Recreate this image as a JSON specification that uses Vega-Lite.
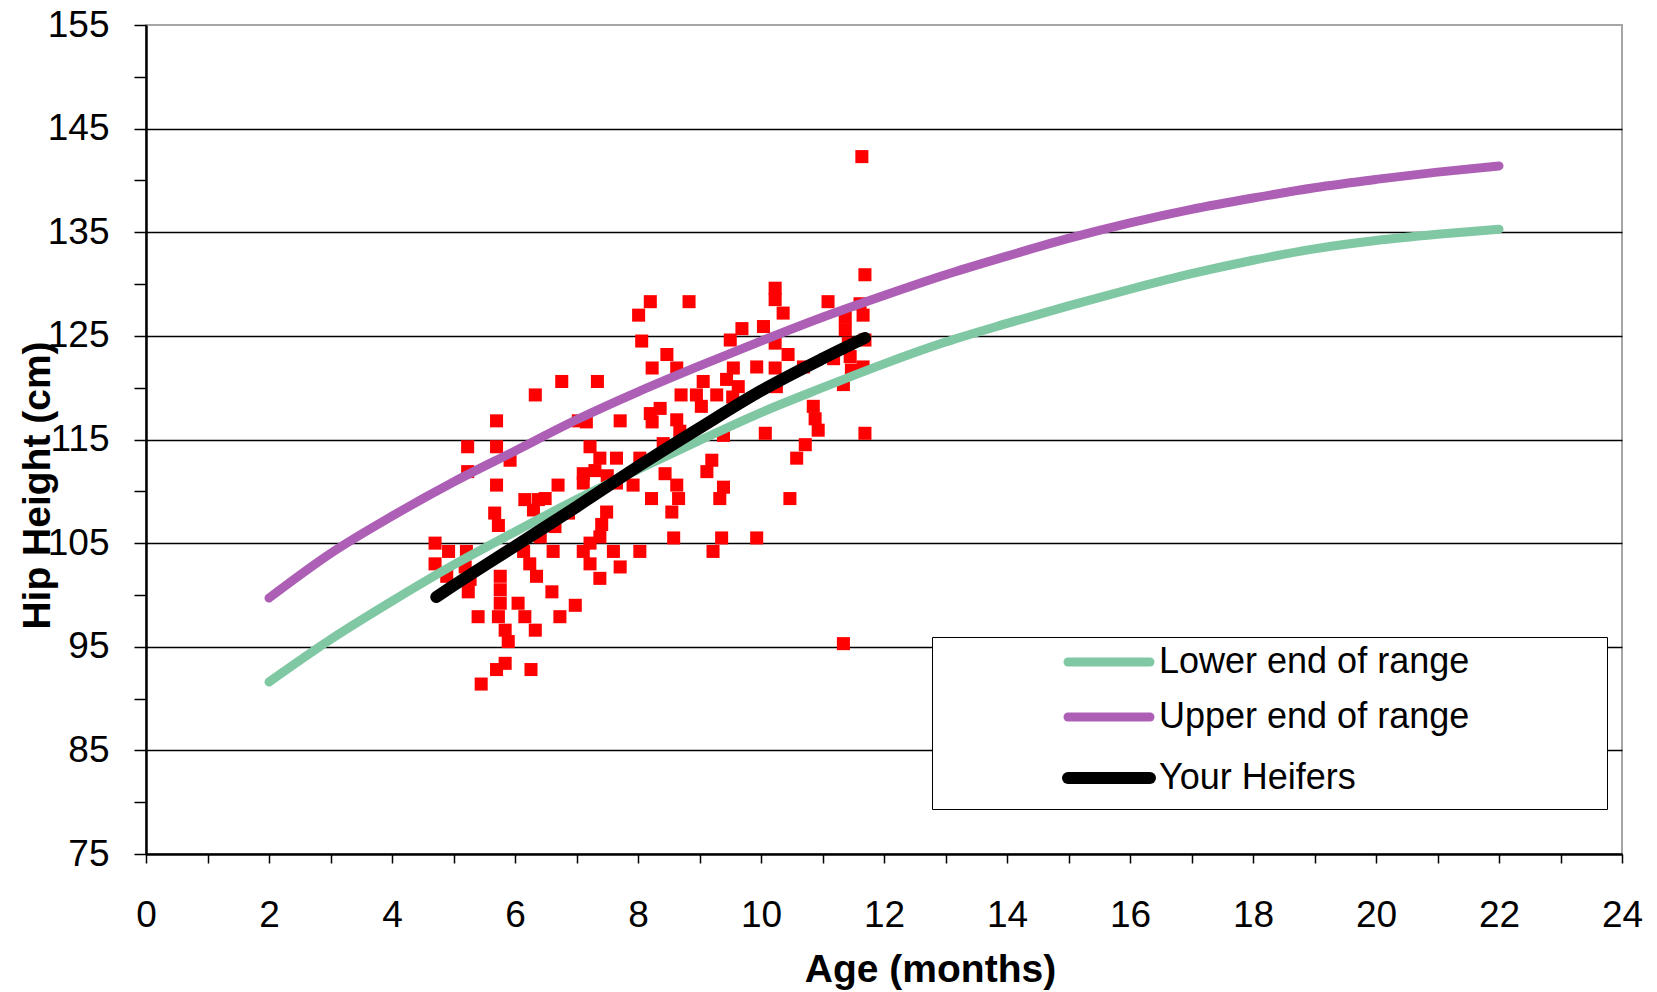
{
  "$schema": "https://vega.github.io/schema/vega-lite/v6.json",
  "width": 1476,
  "height": 829,
  "autosize": {"type": "none"},
  "padding": {"left": 146, "top": 25, "right": 35, "bottom": 138},
  "background": "#ffffff",
  "config": {
    "font": "Liberation Sans",
    "view": {"stroke": "#a6a6a6", "strokeWidth": 2}
  },
  "datasets": {
    "points": [
      {"age": 8.20, "height": 128.3}, {"age": 8.01, "height": 127.0}, {"age": 8.83, "height": 128.3}, {"age": 8.06, "height": 124.5},
      {"age": 8.47, "height": 123.2}, {"age": 8.23, "height": 121.9}, {"age": 8.63, "height": 121.9}, {"age": 6.76, "height": 120.6},
      {"age": 7.34, "height": 120.6}, {"age": 6.33, "height": 119.3}, {"age": 8.70, "height": 119.3}, {"age": 8.95, "height": 119.3},
      {"age": 5.70, "height": 116.8}, {"age": 7.03, "height": 116.8}, {"age": 7.71, "height": 116.8}, {"age": 8.20, "height": 117.5},
      {"age": 8.36, "height": 118.0}, {"age": 8.23, "height": 116.7}, {"age": 8.63, "height": 116.9}, {"age": 8.68, "height": 115.8},
      {"age": 5.23, "height": 114.3}, {"age": 5.70, "height": 114.3}, {"age": 5.23, "height": 111.9}, {"age": 5.92, "height": 113.0},
      {"age": 5.70, "height": 110.6}, {"age": 6.16, "height": 109.2}, {"age": 6.38, "height": 109.2}, {"age": 6.30, "height": 108.2},
      {"age": 5.67, "height": 107.9}, {"age": 5.73, "height": 106.7}, {"age": 4.70, "height": 105.0}, {"age": 4.92, "height": 104.2},
      {"age": 4.70, "height": 103.0}, {"age": 5.21, "height": 104.2}, {"age": 5.19, "height": 102.7}, {"age": 5.27, "height": 101.5},
      {"age": 5.24, "height": 100.3}, {"age": 4.89, "height": 101.8}, {"age": 6.14, "height": 104.2}, {"age": 6.24, "height": 103.0},
      {"age": 6.35, "height": 101.8}, {"age": 5.76, "height": 101.8}, {"age": 5.76, "height": 100.5}, {"age": 5.76, "height": 99.2},
      {"age": 5.73, "height": 97.9}, {"age": 5.84, "height": 96.6}, {"age": 5.89, "height": 95.5}, {"age": 6.05, "height": 99.2},
      {"age": 6.16, "height": 97.9}, {"age": 6.33, "height": 96.6}, {"age": 5.40, "height": 97.9}, {"age": 5.84, "height": 93.4},
      {"age": 5.70, "height": 92.8}, {"age": 6.26, "height": 92.8}, {"age": 5.45, "height": 91.4}, {"age": 6.41, "height": 105.6},
      {"age": 7.16, "height": 116.7}, {"age": 7.22, "height": 114.3}, {"age": 7.38, "height": 113.2}, {"age": 7.65, "height": 113.2},
      {"age": 8.03, "height": 113.2}, {"age": 7.11, "height": 111.7}, {"age": 7.11, "height": 110.8}, {"age": 7.65, "height": 110.8},
      {"age": 6.70, "height": 110.6}, {"age": 7.92, "height": 110.6}, {"age": 6.49, "height": 109.3}, {"age": 8.22, "height": 109.3},
      {"age": 6.87, "height": 107.9}, {"age": 6.65, "height": 106.6}, {"age": 7.49, "height": 108.0}, {"age": 7.41, "height": 106.8},
      {"age": 7.38, "height": 105.6}, {"age": 7.22, "height": 105.0}, {"age": 6.62, "height": 104.2}, {"age": 7.11, "height": 104.2},
      {"age": 7.60, "height": 104.2}, {"age": 8.03, "height": 104.2}, {"age": 7.22, "height": 103.0}, {"age": 7.38, "height": 101.6},
      {"age": 7.71, "height": 102.7}, {"age": 6.60, "height": 100.3}, {"age": 6.98, "height": 99.0}, {"age": 6.73, "height": 97.9},
      {"age": 7.30, "height": 112.0}, {"age": 7.50, "height": 111.5},
      {"age": 9.69, "height": 125.7}, {"age": 10.04, "height": 125.9}, {"age": 9.50, "height": 124.6}, {"age": 9.55, "height": 121.9},
      {"age": 9.93, "height": 122.0}, {"age": 9.06, "height": 120.6}, {"age": 9.44, "height": 120.8}, {"age": 9.63, "height": 120.1},
      {"age": 9.28, "height": 119.3}, {"age": 9.03, "height": 118.2}, {"age": 9.54, "height": 119.1}, {"age": 10.07, "height": 115.6},
      {"age": 9.39, "height": 115.4}, {"age": 8.41, "height": 114.6}, {"age": 9.20, "height": 113.0}, {"age": 9.12, "height": 111.9},
      {"age": 8.44, "height": 111.7}, {"age": 8.63, "height": 110.6}, {"age": 9.39, "height": 110.4}, {"age": 9.33, "height": 109.3},
      {"age": 8.66, "height": 109.3}, {"age": 8.55, "height": 108.0}, {"age": 8.58, "height": 105.5}, {"age": 9.36, "height": 105.5},
      {"age": 9.93, "height": 105.5}, {"age": 9.22, "height": 104.2},
      {"age": 11.64, "height": 142.3}, {"age": 11.69, "height": 130.9}, {"age": 10.23, "height": 129.6}, {"age": 10.23, "height": 128.5},
      {"age": 10.36, "height": 127.2}, {"age": 11.09, "height": 128.3}, {"age": 11.61, "height": 128.1}, {"age": 11.66, "height": 127.0},
      {"age": 11.37, "height": 126.8}, {"age": 11.37, "height": 125.6}, {"age": 10.23, "height": 124.3}, {"age": 10.44, "height": 123.2},
      {"age": 10.23, "height": 121.9}, {"age": 10.69, "height": 122.0}, {"age": 11.18, "height": 122.8}, {"age": 11.45, "height": 123.0},
      {"age": 11.47, "height": 121.7}, {"age": 11.66, "height": 122.0}, {"age": 11.69, "height": 124.6}, {"age": 10.25, "height": 120.1},
      {"age": 11.34, "height": 120.3}, {"age": 10.85, "height": 118.2}, {"age": 10.88, "height": 117.0}, {"age": 10.93, "height": 115.9},
      {"age": 10.72, "height": 114.5}, {"age": 10.58, "height": 113.2}, {"age": 11.69, "height": 115.6}, {"age": 10.47, "height": 109.3},
      {"age": 11.34, "height": 95.3}, {"age": 11.42, "height": 124.3}
    ],
    "curves": [
      {"series": "Lower end of range", "age": 2, "height": 91.6}, {"series": "Lower end of range", "age": 3, "height": 95.7},
      {"series": "Lower end of range", "age": 4, "height": 99.4}, {"series": "Lower end of range", "age": 5, "height": 102.9},
      {"series": "Lower end of range", "age": 6, "height": 106.1}, {"series": "Lower end of range", "age": 7, "height": 109.2},
      {"series": "Lower end of range", "age": 8, "height": 112.1}, {"series": "Lower end of range", "age": 9, "height": 114.9},
      {"series": "Lower end of range", "age": 10, "height": 117.6}, {"series": "Lower end of range", "age": 11, "height": 120.0},
      {"series": "Lower end of range", "age": 12, "height": 122.3}, {"series": "Lower end of range", "age": 13, "height": 124.4},
      {"series": "Lower end of range", "age": 14, "height": 126.2}, {"series": "Lower end of range", "age": 15, "height": 127.9},
      {"series": "Lower end of range", "age": 16, "height": 129.5}, {"series": "Lower end of range", "age": 17, "height": 131.0},
      {"series": "Lower end of range", "age": 18, "height": 132.3}, {"series": "Lower end of range", "age": 19, "height": 133.4},
      {"series": "Lower end of range", "age": 20, "height": 134.2}, {"series": "Lower end of range", "age": 21, "height": 134.8},
      {"series": "Lower end of range", "age": 22, "height": 135.3},
      {"series": "Upper end of range", "age": 2, "height": 99.7}, {"series": "Upper end of range", "age": 3, "height": 104.0},
      {"series": "Upper end of range", "age": 4, "height": 107.6}, {"series": "Upper end of range", "age": 5, "height": 110.9},
      {"series": "Upper end of range", "age": 6, "height": 113.9}, {"series": "Upper end of range", "age": 7, "height": 116.9},
      {"series": "Upper end of range", "age": 8, "height": 119.6}, {"series": "Upper end of range", "age": 9, "height": 122.1},
      {"series": "Upper end of range", "age": 10, "height": 124.5}, {"series": "Upper end of range", "age": 11, "height": 126.8},
      {"series": "Upper end of range", "age": 12, "height": 128.9}, {"series": "Upper end of range", "age": 13, "height": 130.9},
      {"series": "Upper end of range", "age": 14, "height": 132.7}, {"series": "Upper end of range", "age": 15, "height": 134.4},
      {"series": "Upper end of range", "age": 16, "height": 135.9}, {"series": "Upper end of range", "age": 17, "height": 137.2},
      {"series": "Upper end of range", "age": 18, "height": 138.3}, {"series": "Upper end of range", "age": 19, "height": 139.3},
      {"series": "Upper end of range", "age": 20, "height": 140.1}, {"series": "Upper end of range", "age": 21, "height": 140.8},
      {"series": "Upper end of range", "age": 22, "height": 141.4},
      {"series": "Your Heifers", "age": 4.72, "height": 99.8}, {"series": "Your Heifers", "age": 5, "height": 100.9},
      {"series": "Your Heifers", "age": 6, "height": 104.7}, {"series": "Your Heifers", "age": 7, "height": 108.5},
      {"series": "Your Heifers", "age": 8, "height": 112.4}, {"series": "Your Heifers", "age": 9, "height": 116.1},
      {"series": "Your Heifers", "age": 10, "height": 119.7}, {"series": "Your Heifers", "age": 11, "height": 122.8},
      {"series": "Your Heifers", "age": 11.69, "height": 124.8}
    ]
  },
  "layer": [
    {
      "data": {"name": "points"},
      "mark": {"type": "point", "shape": "square", "filled": true, "size": 170, "color": "#ff0000", "opacity": 1},
      "encoding": {
        "x": {
          "field": "age", "type": "quantitative",
          "scale": {"domain": [0, 24], "nice": false, "zero": false},
          "axis": {
            "title": "Age (months)",
            "values": [0,1,2,3,4,5,6,7,8,9,10,11,12,13,14,15,16,17,18,19,20,21,22,23,24],
            "format": "d",
            "labelExpr": "datum.value % 2 == 0 ? datum.label : ''",
            "labelOverlap": false, "labelFlush": false, "labelBound": false,
            "grid": false,
            "tickSize": 9, "tickColor": "#000", "tickWidth": 1.5,
            "domainColor": "#000", "domainWidth": 2.5,
            "labelFont": "Liberation Sans", "labelFontSize": 37, "labelColor": "#000", "labelPadding": 34,
            "titleFont": "Liberation Sans", "titleFontSize": 39, "titleFontWeight": "bold", "titleColor": "#000",
            "titleX": 784, "titleY": 115, "titleAlign": "center", "titleBaseline": "middle"
          }
        },
        "y": {
          "field": "height", "type": "quantitative",
          "scale": {"domain": [75, 155], "nice": false, "zero": false},
          "axis": {
            "title": "Hip Height (cm)",
            "values": [75,80,85,90,95,100,105,110,115,120,125,130,135,140,145,150,155],
            "format": "d",
            "labelExpr": "datum.value % 10 == 5 ? datum.label : ''",
            "labelOverlap": false, "labelFlush": false, "labelBound": false,
            "grid": true, "gridColor": "#000", "gridWidth": 1.6,
            "gridOpacity": {"condition": {"test": "datum.value % 10 == 5 && datum.value > 75 && datum.value < 155", "value": 1}, "value": 0},
            "tickSize": 12, "tickColor": "#000", "tickWidth": 1.5,
            "domainColor": "#000", "domainWidth": 2.5,
            "labelFont": "Liberation Sans", "labelFontSize": 37, "labelColor": "#000", "labelPadding": 25,
            "titleFont": "Liberation Sans", "titleFontSize": 39, "titleFontWeight": "bold", "titleColor": "#000",
            "titleX": -109, "titleY": 460, "titleAlign": "center", "titleBaseline": "middle", "titleAngle": -90
          }
        }
      }
    },
    {
      "data": {"name": "curves"},
      "mark": {"type": "line", "interpolate": "monotone", "strokeCap": "round", "strokeJoin": "round"},
      "encoding": {
        "x": {"field": "age", "type": "quantitative"},
        "y": {"field": "height", "type": "quantitative"},
        "color": {
          "field": "series", "type": "nominal",
          "scale": {"domain": ["Lower end of range", "Upper end of range", "Your Heifers"], "range": ["#80c8a4", "#ad5fb5", "#000000"]},
          "legend": {
            "title": null,
            "orient": "none", "legendX": 786, "legendY": 612,
            "fillColor": "#ffffff", "strokeColor": "#000000",
            "padding": 7,
            "symbolType": "stroke", "symbolSize": 6724, "symbolStrokeWidth": 9, "symbolOffset": 152,
            "labelFont": "Liberation Sans", "labelFontSize": 36, "labelColor": "#000", "labelOffset": 32,
            "labelExpr": "datum.label + '\u2800\u2800\u2800\u2800\u2800'",
            "labelLimit": 0,
            "rowPadding": 19,
            "encode": {"symbols": {"update": {"strokeWidth": {"signal": "datum.value === 'Your Heifers' ? 12 : 9"}, "strokeCap": {"value": "round"}}}}
          }
        },
        "strokeWidth": {"condition": {"test": "datum.series === 'Your Heifers'", "value": 12}, "value": 9}
      }
    }
  ]
}
